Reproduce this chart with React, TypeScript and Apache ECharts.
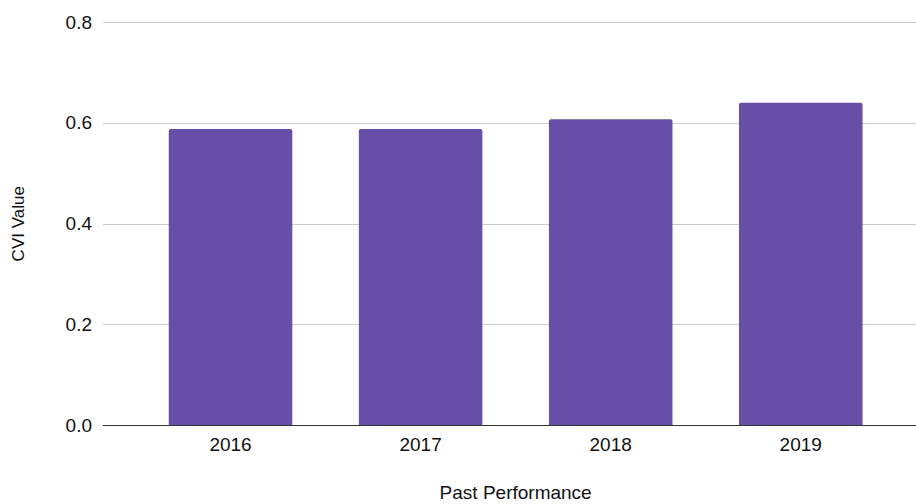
import React, { useEffect, useRef } from "react";
import * as echarts from "echarts";

const categories = ["2016", "2017", "2018", "2019"];
const cviValues = [0.588, 0.588, 0.607, 0.64];
const yTicks = [0, 0.2, 0.4, 0.6, 0.8];

export default function App() {
  const ref = useRef<HTMLDivElement>(null);
  useEffect(() => {
    if (!ref.current) return;
    const chart = echarts.init(ref.current, undefined, { renderer: "svg" });
    const font = "Liberation Sans, Arial, sans-serif";
    const top = 22;
    const bottom = 78.5;
    chart.setOption({
      animation: false,
      textStyle: { fontFamily: font },
      grid: [
        { left: 103, right: 0, top, bottom, containLabel: false, outerBoundsMode: "none" },
        { left: 135.5, right: 20.2, top, bottom, containLabel: false, outerBoundsMode: "none" },
      ],
      xAxis: [
        {
          gridIndex: 0,
          type: "category",
          data: categories,
          axisLine: { show: true, lineStyle: { color: "#333", width: 1 } },
          axisTick: { show: false },
          axisLabel: { show: false },
          splitLine: { show: false },
          z: 5,
        },
        {
          gridIndex: 1,
          type: "category",
          data: categories,
          axisLine: { show: false },
          axisTick: { show: false },
          axisLabel: { color: "#111", fontSize: 19, margin: 9, fontFamily: font },
          name: "Past Performance",
          nameLocation: "middle",
          nameGap: 57,
          nameTextStyle: { color: "#111", fontSize: 19, fontFamily: font },
        },
      ],
      yAxis: [
        {
          gridIndex: 0,
          type: "value",
          min: 0,
          max: yTicks[yTicks.length - 1],
          interval: 0.2,
          axisLine: { show: false },
          axisTick: { show: false },
          axisLabel: {
            color: "#111",
            fontSize: 19,
            margin: 11,
            fontFamily: font,
            formatter: (v: number) => v.toFixed(1),
          },
          splitLine: { lineStyle: { color: "#ccc", width: 1 } },
          name: "CVI Value",
          nameLocation: "middle",
          nameRotate: 90,
          nameGap: 76,
          nameTextStyle: { color: "#111", fontSize: 17, fontFamily: font },
        },
        {
          gridIndex: 1,
          type: "value",
          min: 0,
          max: yTicks[yTicks.length - 1],
          interval: 0.2,
          show: false,
        },
      ],
      series: [
        {
          type: "bar",
          xAxisIndex: 1,
          yAxisIndex: 1,
          data: cviValues,
          barWidth: "65%",
          itemStyle: { color: "#674ea7", borderRadius: [2, 2, 0, 0] },
        },
      ],
    });
    return () => chart.dispose();
  }, []);
  return (
    <div
      ref={ref}
      style={{ position: "fixed", left: 0, top: 0, width: 916, height: 504, background: "#fff" }}
    />
  );
}
